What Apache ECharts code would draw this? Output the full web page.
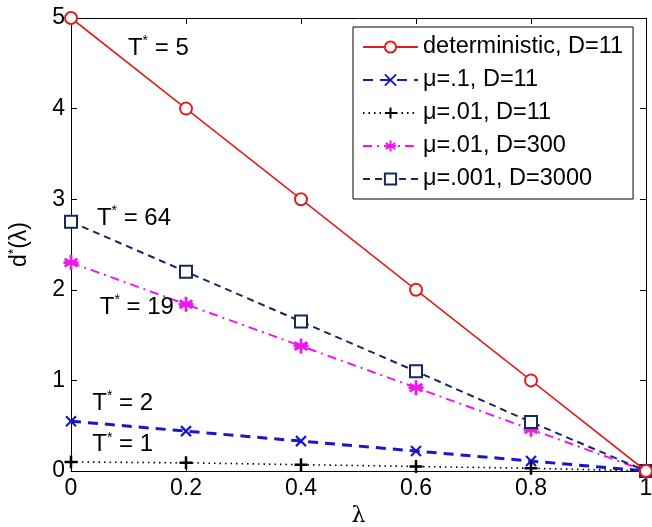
<!DOCTYPE html>
<html>
<head>
<meta charset="utf-8">
<script src="https://cdn.jsdelivr.net/npm/echarts@6/dist/echarts.min.js"></script>
<style>
  html, body { margin: 0; padding: 0; background: #fff; }
  #chart { width: 652px; height: 527px; }
</style>
</head>
<body>
<div id="chart"></div>
<script>
// lambda values on the x axis
const lambdas = [0, 0.2, 0.4, 0.6, 0.8, 1];

// d*(lambda)
const deterministic = [5, 4, 3, 2, 1, 0];
const mu1D11 = [0.55, 0.44, 0.33, 0.22, 0.11, 0];
const mu01D11 = [0.1, 0.09, 0.07, 0.05, 0.03, 0];
const mu01D300 = [2.3, 1.84, 1.38, 0.92, 0.46, 0];
const mu001D3000 = [2.75, 2.2, 1.65, 1.1, 0.54, 0];

const seriesNames = [
  "deterministic, D=11",
  "μ=.1, D=11",
  "μ=.01, D=11",
  "μ=.01, D=300",
  "μ=.001, D=3000",
];

// T* labels: [lambda, d, text]
const notes = [
  [0.099, 4.67, "5"],
  [0.045, 2.79, "64"],
  [0.05, 1.81, "19"],
  [0.037, 0.75, "2"],
  [0.037, 0.29, "1"],
];

const xTicks = ["0", "0.2", "0.4", "0.6", "0.8", "1"];

const font = "Liberation Sans, Arial, sans-serif";
const pts = (ys) => lambdas.map((x, i) => [x, ys[i]]);

const chart = echarts.init(document.getElementById("chart"));

const axisCommon = {
  axisLine: { show: true, onZero: false, lineStyle: { color: "#000", width: 1 } },
  axisTick: { show: true, inside: true, length: 6, lineStyle: { color: "#000" } },
  splitLine: { show: false },
};

chart.setOption({
  animation: false,
  backgroundColor: "#fff",
  grid: { left: 71, right: 6, top: 18, bottom: 56, containLabel: false, outerBoundsMode: "none" },
  xAxis: [
    {
      type: "value", min: 0, max: 1, interval: 0.2, position: "bottom",
      ...axisCommon,
      axisLabel: {
        color: "#000", fontSize: 23, fontFamily: font, margin: 6,
        formatter: (v) => xTicks[Math.round(v * 5)],
      },
      name: "λ", nameLocation: "middle", nameGap: 34,
      nameTextStyle: { color: "#000", fontSize: 22, fontFamily: "DejaVu Serif, serif" },
    },
    {
      type: "value", min: 0, max: 1, interval: 0.2, position: "top",
      ...axisCommon,
      axisLabel: { show: false },
    },
  ],
  yAxis: [
    {
      type: "value", min: 0, max: 5, interval: 1, position: "left",
      ...axisCommon,
      axisLabel: { color: "#000", fontSize: 23, fontFamily: font, margin: 6 },
      name: "{a|d}{s|*}{a|(λ)}", nameLocation: "middle", nameGap: 38, nameRotate: 90,
      nameTextStyle: {
        color: "#000", fontFamily: font,
        rich: {
          a: { fontSize: 23, fontFamily: font, color: "#000", lineHeight: 26 },
          s: { fontSize: 14, fontFamily: font, color: "#000", verticalAlign: "top", lineHeight: 26 },
        },
      },
    },
    {
      type: "value", min: 0, max: 5, interval: 1, position: "right",
      ...axisCommon,
      axisLabel: { show: false },
    },
  ],
  legend: {
    orient: "vertical",
    left: 353, top: 27,
    padding: [8, 10, 8, 9],
    itemWidth: 55, itemHeight: 14, itemGap: 9,
    backgroundColor: "#fff",
    borderColor: "#000", borderWidth: 1,
    textStyle: { color: "#000", fontSize: 23.5, fontFamily: font, lineHeight: 24 },
    data: seriesNames,
  },
  series: [
    {
      name: seriesNames[0], type: "line", data: pts(deterministic),
      symbol: "emptyCircle", symbolSize: 12,
      lineStyle: { color: "#dc2020", width: 1.6, type: "solid" },
      itemStyle: { color: "#dc2020", borderColor: "#dc2020", borderWidth: 1.6 },
      z: 5,
    },
    {
      name: seriesNames[1], type: "line", data: pts(mu1D11),
      symbol: "path://M0,0L10,10M10,0L0,10", symbolSize: 10,
      lineStyle: { color: "#1818c8", width: 3, type: [10, 7] },
      itemStyle: { color: "#1818c8", borderColor: "#1818c8", borderWidth: 2.2 },
    },
    {
      name: seriesNames[2], type: "line", data: pts(mu01D11),
      symbol: "path://M5,0L5,10M0,5L10,5", symbolSize: 13,
      lineStyle: { color: "#000", width: 1.6, type: [1.5, 4] },
      itemStyle: { color: "#000", borderColor: "#000", borderWidth: 2.5 },
    },
    {
      name: seriesNames[3], type: "line", data: pts(mu01D300),
      symbol: "path://M5,0L5,10M0.7,2.5L9.3,7.5M0.7,7.5L9.3,2.5M0,5L10,5", symbolSize: 15,
      lineStyle: { color: "#ee18ee", width: 2, type: [9, 5, 2, 5] },
      itemStyle: { color: "#ee18ee", borderColor: "#ee18ee", borderWidth: 2.8 },
    },
    {
      name: seriesNames[4], type: "line", data: pts(mu001D3000),
      symbol: "emptyRect", symbolSize: 12,
      lineStyle: { color: "#18285e", width: 2, type: [7, 5] },
      itemStyle: { color: "#18285e", borderColor: "#18285e", borderWidth: 2 },
    },
  ],
});

// place the T* notes at data coordinates
chart.setOption({
  graphic: notes.map(([x, y, t]) => {
    const p = chart.convertToPixel({ gridIndex: 0 }, [x, y]);
    return {
      type: "text", x: p[0], y: p[1], z: 10,
      style: {
        text: "{t|T}{s|*}{t| = " + t + "}",
        verticalAlign: "middle", align: "left",
        rich: {
          t: { fontSize: 24, fontFamily: font, fill: "#000", lineHeight: 28 },
          s: { fontSize: 14, fontFamily: font, fill: "#000", verticalAlign: "top", lineHeight: 28 },
        },
      },
    };
  }),
});
</script>
</body>
</html>
